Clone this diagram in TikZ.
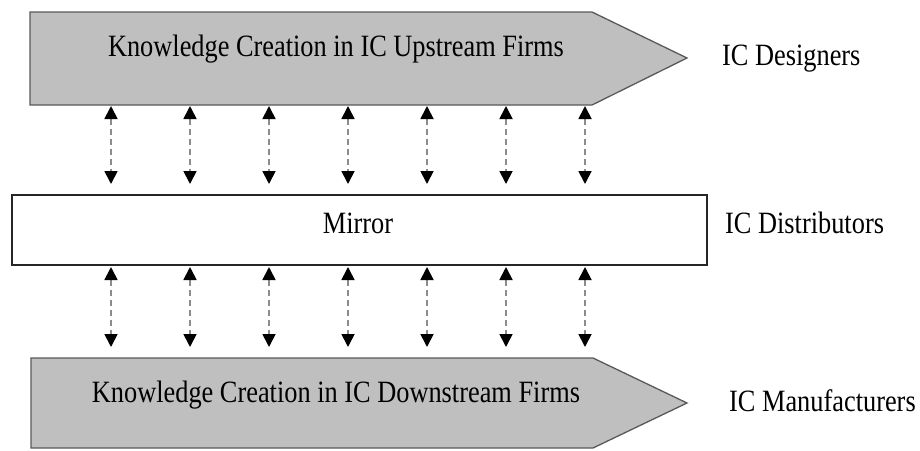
\documentclass[tikz,border=0pt]{standalone}
\usepackage{fontspec}
\setmainfont[FakeStretch=0.85]{Liberation Serif}
\usetikzlibrary{arrows.meta}
\begin{document}
\begin{tikzpicture}[x=1pt, y=-1pt,
  chevron/.style={draw=black!65, line width=1.3pt, fill=black!25},
  mirrorbox/.style={draw=black!85, line width=1.3pt, fill=white},
  link/.style={draw=black!45, line width=1.8pt, dash pattern=on 6pt off 4pt,
    {Triangle[color=black, length=13pt, width=13pt]}-{Triangle[color=black, length=13pt, width=13pt]}},
  txt/.style={font=\fontsize{31}{36}\selectfont, inner sep=0pt, anchor=base},
  side/.style={font=\fontsize{31}{36}\selectfont, inner sep=0pt, anchor=base west}]
  \useasboundingbox (0,0) rectangle (920,450);

  % upstream firms
  \draw[chevron] (30,12) coordinate (upNW) -- (592,12) -- (687,58) coordinate (upTip)
    -- (592,105) -- (30,105) coordinate (upSW) -- cycle;
  \node[txt] (upText) at (336,56) {Knowledge Creation in IC Upstream Firms};
  \node[side] (designers) at (722,65) {IC Designers};

  % mirror
  \draw[mirrorbox] (12,195) coordinate (mirNW) rectangle (707,265) coordinate (mirSE);
  \node[txt] (mirror) at (358,233) {Mirror};
  \node[side] (distributors) at (725,233) {IC Distributors};

  % downstream firms
  \draw[chevron] (31,358) coordinate (dnNW) -- (593,358) -- (687,403) coordinate (dnTip)
    -- (593,448) -- (31,448) -- cycle;
  \node[txt] (dnText) at (336,402) {Knowledge Creation in IC Downstream Firms};
  \node[side] (manufacturers) at (729,411) {IC Manufacturers};

  % links
  \foreach \i in {0,...,6} {
    \pgfmathsetmacro\xx{111+79*\i}
    \coordinate (ua\i) at (\xx,106);
    \coordinate (ub\i) at (\xx,184);
    \coordinate (la\i) at (\xx,267);
    \coordinate (lb\i) at (\xx,347);
    \draw[link] (ua\i) -- (ub\i);
    \draw[link] (la\i) -- (lb\i);
  }
\end{tikzpicture}
\end{document}
